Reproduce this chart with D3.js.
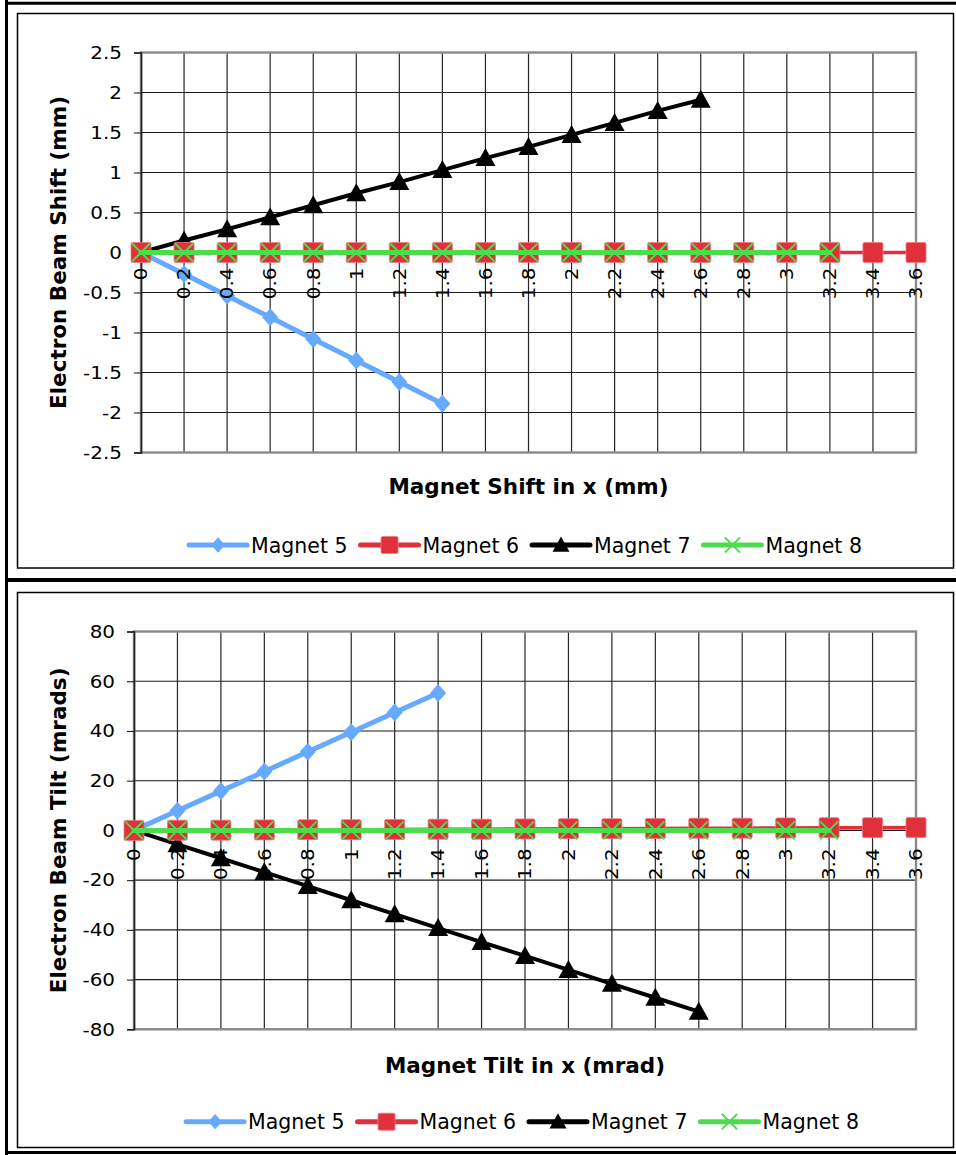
<!DOCTYPE html>
<html><head><meta charset="utf-8">
<script src="https://cdn.jsdelivr.net/npm/d3@7"></script>
<style>body{margin:0;background:#fff}svg{display:block}</style>
</head><body>
<script>
const xCats = ["0","0.2","0.4","0.6","0.8","1","1.2","1.4","1.6","1.8","2","2.2","2.4","2.6","2.8","3","3.2","3.4","3.6"];
const seriesNames = ["Magnet 5","Magnet 6","Magnet 7","Magnet 8"];
const seriesColors = ["#66aaff","#e0303a","#000000","#4cdc4c"];

// Top chart: shift
const shiftTicks = [2.5,2,1.5,1,0.5,0,-0.5,-1,-1.5,-2,-2.5];
const shiftM5 = [0,-0.27,-0.54,-0.81,-1.08,-1.35,-1.62,-1.89];
const shiftM6 = [0,0,0,0,0,0,0,0,0,0,0,0,0,0,0,0,0,0,0];
const shiftM7 = [0,0.15,0.29,0.44,0.59,0.74,0.88,1.03,1.18,1.32,1.47,1.62,1.77,1.91];
const shiftM8 = [0,0,0,0,0,0,0,0,0,0,0,0,0,0,0,0,0];

// Bottom chart: tilt
const tiltTicks = [80,60,40,20,0,-20,-40,-60,-80];
const tiltM5 = [0,7.9,15.8,23.7,31.6,39.5,47.4,55.3];
const tiltM6 = [0,0.1,0.1,0.2,0.3,0.3,0.4,0.5,0.5,0.6,0.7,0.7,0.8,0.9,0.9,1.0,1.1,1.1,1.2];
const tiltM7 = [0,-5.6,-11.2,-16.8,-22.4,-28.1,-33.7,-39.3,-44.9,-50.5,-56.1,-61.7,-67.3,-72.9];
const tiltM8 = [0,0,0,0,0,0,0,0,0,0,0,0,0,0,0,0,0];

const W = 956, H = 1155;
const svg = d3.select("body").append("svg").attr("width", W).attr("height", H);

// frames
const frame = svg.append("g");
frame.append("rect").attr("x",17.5).attr("y",13.5).attr("width",936).attr("height",554.5).attr("fill","none").attr("stroke","#000").attr("stroke-width",1.5);
frame.append("rect").attr("x",17.5).attr("y",592.5).attr("width",936).attr("height",555).attr("fill","none").attr("stroke","#000").attr("stroke-width",1.5);
frame.append("line").attr("x1",6.5).attr("x2",6.5).attr("y1",0).attr("y2",H).attr("stroke","#000").attr("stroke-width",3);
frame.append("line").attr("x1",5).attr("x2",W).attr("y1",3.2).attr("y2",3.2).attr("stroke","#000").attr("stroke-width",3);
frame.append("line").attr("x1",5).attr("x2",W).attr("y1",580).attr("y2",580).attr("stroke","#000").attr("stroke-width",4);
frame.append("line").attr("x1",5).attr("x2",W).attr("y1",1152.5).attr("y2",1152.5).attr("stroke","#000").attr("stroke-width",3);

function marker(g, type, x, y, color, s) {
  if (type === 0) {
    g.append("path").attr("d", `M${x},${y-9*s}L${x+8*s},${y}L${x},${y+9*s}L${x-8*s},${y}Z`).attr("fill", color);
  } else if (type === 1) {
    const h = 10*s;
    g.append("rect").attr("x", x-h).attr("y", y-h).attr("width", 2*h).attr("height", 2*h).attr("rx",1.5).attr("fill", color).attr("stroke","#f07a80").attr("stroke-width",0.8);
  } else if (type === 2) {
    g.append("path").attr("d", `M${x},${y-10*s}L${x+10*s},${y+8*s}L${x-10*s},${y+8*s}Z`).attr("fill", color);
  } else {
    const h = 9*s;
    g.append("path").attr("d", `M${x-h},${y-h}L${x+h},${y+h}M${x-h},${y+h}L${x+h},${y-h}`).attr("stroke", color).attr("stroke-width",2).attr("fill","none");
  }
}

function drawPanel(cfg) {
  const g = svg.append("g");
  const x = d3.scalePoint().domain(xCats).range([cfg.L, cfg.R]);
  const y = d3.scaleLinear().domain([cfg.ticks[cfg.ticks.length-1], cfg.ticks[0]]).range([cfg.B, cfg.T]);

  // gridlines
  g.append("g").selectAll("line").data(cfg.ticks).join("line")
    .attr("x1", cfg.L).attr("x2", cfg.R).attr("y1", d => y(d)).attr("y2", d => y(d))
    .attr("stroke", "#1a1a1a").attr("stroke-width", 1.1);
  g.append("g").selectAll("line").data(xCats.slice(1)).join("line")
    .attr("x1", d => x(d)).attr("x2", d => x(d)).attr("y1", cfg.T).attr("y2", cfg.B)
    .attr("stroke", "#262626").attr("stroke-width", 1.2);
  // plot border
  g.append("rect").attr("x", cfg.L).attr("y", cfg.T).attr("width", cfg.R-cfg.L).attr("height", cfg.B-cfg.T)
    .attr("fill","none").attr("stroke","#8a8a8a").attr("stroke-width",2.4);
  // y axis
  const yAxis = d3.axisLeft(y).tickValues(cfg.ticks).tickSize(7).tickFormat(d => String(d));
  const ya = g.append("g").attr("transform", `translate(${cfg.L},0)`).call(yAxis);
  ya.select(".domain").attr("stroke","#222").attr("stroke-width",1.6);
  ya.selectAll(".tick line").attr("stroke","#222").attr("stroke-width",1.1);
  ya.selectAll(".tick text").remove();
  g.append("g").selectAll("text").data(cfg.ticks).join("text")
    .attr("transform", d => `translate(${cfg.L-19},${y(d)}) scale(1.14,1)`)
    .attr("dy","0.36em").attr("text-anchor","end")
    .attr("font-family","DejaVu Sans").attr("font-size",17.5).attr("fill","#000")
    .text(d => String(d));

  // series
  const order = [0,2,1,3];
  const lw = [5,3.5,4,5];
  order.forEach(i => {
    const data = cfg.series[i];
    const pts = data.map((v, k) => [x(xCats[k]), y(v)]);
    g.append("path").attr("d", d3.line()(pts)).attr("fill","none").attr("stroke", seriesColors[i])
      .attr("stroke-width", lw[i]).attr("stroke-linejoin","round").attr("stroke-linecap","round");
    const mg = g.append("g");
    pts.forEach(p => marker(mg, i, p[0], p[1], seriesColors[i], 1));
  });

  // x labels
  g.append("g").selectAll("text").data(xCats).join("text")
    .attr("transform", d => `translate(${x(d)},${y(0)+cfg.xlabOff}) rotate(-90) scale(1.14,1)`)
    .attr("dy","0.36em").attr("text-anchor","end")
    .attr("font-family","DejaVu Sans").attr("font-size",17.5).attr("fill","#000")
    .text(d => d);

  // titles
  g.append("text").attr("x", (cfg.L+cfg.R)/2).attr("y", cfg.xTitleY).attr("text-anchor","middle")
    .attr("font-family","DejaVu Sans").attr("font-weight","bold").attr("font-size",21.5).text(cfg.xTitle);
  g.append("text").attr("transform", `translate(66,${(cfg.T+cfg.B)/2}) rotate(-90)`).attr("text-anchor","middle")
    .attr("font-family","DejaVu Sans").attr("font-weight","bold").attr("font-size",21.5).text(cfg.yTitle);

  // legend
  const lg = g.append("g");
  const texts = seriesNames.map(n => lg.append("text").attr("font-family","DejaVu Sans").attr("font-size",20.5).attr("fill","#000").text(n));
  const widths = texts.map(t => t.node().getComputedTextLength());
  const lineLen = 58, gap1 = 4, gap2 = 13;
  const total = widths.reduce((a,b)=>a+b,0) + 4*(lineLen+gap1) + 3*gap2;
  let cx = cfg.legendCx - total/2;
  seriesNames.forEach((n, i) => {
    lg.append("line").attr("x1", cx).attr("x2", cx+lineLen).attr("y1", cfg.legendY).attr("y2", cfg.legendY)
      .attr("stroke", seriesColors[i]).attr("stroke-width", 5).attr("stroke-linecap","round");
    marker(lg, i, cx+lineLen/2, cfg.legendY, seriesColors[i], 0.85);
    texts[i].attr("x", cx+lineLen+gap1).attr("y", cfg.legendY+7.5);
    cx += lineLen + gap1 + widths[i] + gap2;
  });
}

drawPanel({L:141, R:916, T:52.5, B:452.5, ticks: shiftTicks,
  series:[shiftM5, shiftM6, shiftM7, shiftM8], xlabOff:15,
  xTitle:"Magnet Shift in x (mm)", yTitle:"Electron Beam Shift (mm)", xTitleY:494,
  legendCx:525.5, legendY:545});
drawPanel({L:134, R:916, T:631.5, B:1029.3, ticks: tiltTicks,
  series:[tiltM5, tiltM6, tiltM7, tiltM8], xlabOff:18,
  xTitle:"Magnet Tilt in x (mrad)", yTitle:"Electron Beam Tilt (mrads)", xTitleY:1073,
  legendCx:522.5, legendY:1121.7});
</script>
</body></html>
